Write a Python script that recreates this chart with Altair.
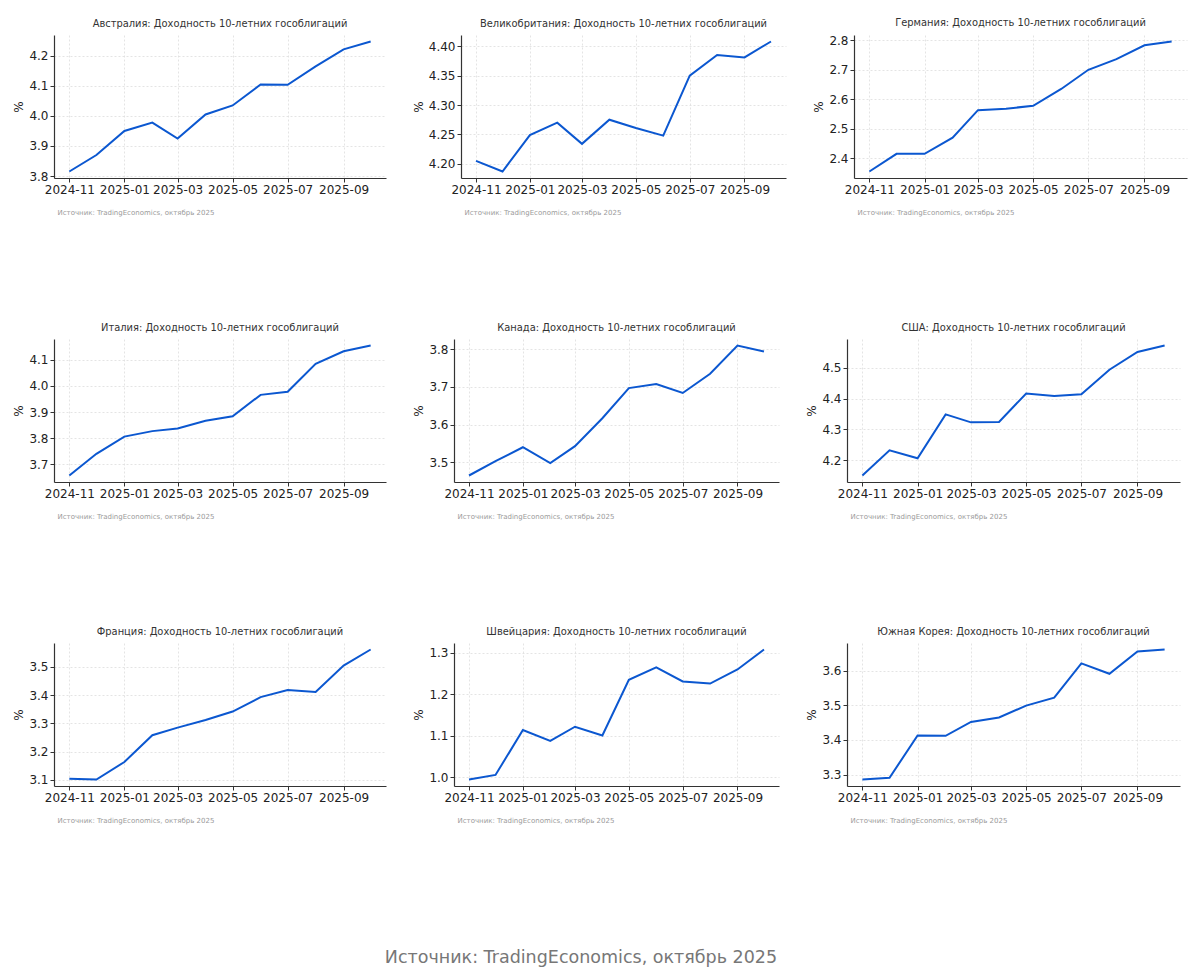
import altair as alt
import pandas as pd

months = ["2024-11-01", "2024-12-01", "2025-01-01", "2025-02-01", "2025-03-01", "2025-04-01",
          "2025-05-01", "2025-06-01", "2025-07-01", "2025-08-01", "2025-09-01", "2025-10-01"]

countries = ["Австралия", "Великобритания", "Германия",
             "Италия", "Канада", "США",
             "Франция", "Швейцария", "Южная Корея"]

australia = [3.815, 3.870, 3.950, 3.978, 3.925, 4.005, 4.035, 4.105, 4.104, 4.165, 4.222, 4.248]
uk = [4.205, 4.187, 4.249, 4.270, 4.234, 4.275, 4.261, 4.248, 4.350, 4.385, 4.381, 4.408]
germany = [2.355, 2.415, 2.415, 2.470, 2.563, 2.568, 2.578, 2.635, 2.700, 2.736, 2.783, 2.796]
italy = [3.657, 3.740, 3.806, 3.827, 3.837, 3.867, 3.884, 3.966, 3.978, 4.085, 4.133, 4.155]
canada = [3.465, 3.503, 3.540, 3.498, 3.543, 3.617, 3.697, 3.708, 3.684, 3.735, 3.810, 3.794]
usa = [4.150, 4.232, 4.206, 4.349, 4.323, 4.324, 4.417, 4.409, 4.414, 4.494, 4.552, 4.573]
france = [3.104, 3.101, 3.163, 3.258, 3.285, 3.312, 3.342, 3.393, 3.418, 3.411, 3.505, 3.562]
switzerland = [0.995, 1.006, 1.114, 1.088, 1.122, 1.101, 1.235, 1.265, 1.231, 1.226, 1.260, 1.308]
korea = [3.286, 3.291, 3.413, 3.412, 3.452, 3.465, 3.499, 3.522, 3.621, 3.591, 3.655, 3.661]

series = [australia, uk, germany, italy, canada, usa, france, switzerland, korea]

y_ticks = [
    [3.8, 3.9, 4.0, 4.1, 4.2],
    [4.20, 4.25, 4.30, 4.35, 4.40],
    [2.4, 2.5, 2.6, 2.7, 2.8],
    [3.7, 3.8, 3.9, 4.0, 4.1],
    [3.5, 3.6, 3.7, 3.8],
    [4.2, 4.3, 4.4, 4.5],
    [3.1, 3.2, 3.3, 3.4, 3.5],
    [1.0, 1.1, 1.2, 1.3],
    [3.3, 3.4, 3.5, 3.6],
]
y_formats = [".1f", ".2f", ".1f", ".1f", ".1f", ".1f", ".1f", ".1f", ".1f"]

x_tick_months = [(2024, 11), (2025, 1), (2025, 3), (2025, 5), (2025, 7), (2025, 9)]

title_suffix = ": Доходность 10-летних гособлигаций"
note_text = "Источник: TradingEconomics, октябрь 2025"
footer_text = "Источник: TradingEconomics, октябрь 2025"

FONT = "DejaVu Sans"
LINE_COLOR = "#0b57d0"
COL_W = [332, 325, 333]
PH = 143


def panel(name, vals, ticks, fmt, w):
    df = pd.DataFrame({"date": pd.to_datetime(months), "value": vals})
    lo, hi = min(vals), max(vals)
    m = (hi - lo) * 0.05
    x_dom = [alt.DateTime(year=2024, month=10, date=15), alt.DateTime(year=2025, month=10, date=18)]
    return alt.Chart(df).mark_line(color=LINE_COLOR, strokeWidth=2).encode(
        x=alt.X("date:T",
                scale=alt.Scale(domain=x_dom),
                axis=alt.Axis(values=[alt.DateTime(year=y, month=mo, date=1) for y, mo in x_tick_months],
                              format="%Y-%m", title=note_text, titleAnchor="start",
                              titleAlign="left", titleX=3, titleY=30, titleFontSize=7,
                              titleColor="#9a9a9a", titleFontWeight="normal", labelFlush=False)),
        y=alt.Y("value:Q",
                scale=alt.Scale(domain=[lo - m, hi + m], nice=False, zero=False),
                axis=alt.Axis(values=ticks, format=fmt, title="%", titleFontWeight="normal",
                              titleFontSize=12, titleColor="#222", titlePadding=3)),
    ).properties(
        width=w, height=PH,
        title=alt.TitleParams(name + title_suffix, fontSize=9.9, fontWeight="normal",
                              color="#333", font=FONT, offset=6),
    )


panels = [panel(c, s, t, f, COL_W[i % 3])
          for i, (c, s, t, f) in enumerate(zip(countries, series, y_ticks, y_formats))]
rows = [alt.hconcat(*panels[i * 3:(i + 1) * 3], spacing=26) for i in range(3)]

chart = alt.vconcat(*rows, spacing=108).properties(
    title=alt.TitleParams(footer_text, orient="bottom", fontSize=17.5, fontWeight="normal",
                          color="#777", font=FONT, offset=126, anchor="middle", dx=-19),
    padding={"left": 4, "top": 10, "right": 2, "bottom": 0},
).configure_view(stroke=None).configure_axis(
    labelFont=FONT, titleFont=FONT, labelFontSize=12, labelColor="#222",
    domainColor="#333", domainWidth=1.2, tickColor="#333", tickSize=4,
    gridColor="#dddddd", gridDash=[2, 2], gridWidth=0.8, labelPadding=2,
)

chart.save("out.html", embed_options={"renderer": "svg", "actions": False})
